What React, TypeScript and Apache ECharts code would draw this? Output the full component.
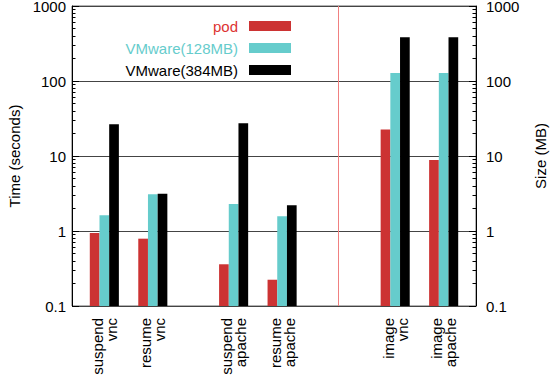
import React, { useEffect, useRef } from "react";
import * as echarts from "echarts";

const categories = ["suspend\nvnc", "resume\nvnc", "suspend\napache", "resume\napache", "image\nvnc", "image\napache"];
const xPositions = [0, 1, 2.667, 3.667, 6, 7];
const separatorX = 4.83;
const seriesNames = ["pod", "VMware(128MB)", "VMware(384MB)"];
const podValues = [0.94, 0.79, 0.36, 0.224, 22.6, 8.85];
const vm128Values = [1.62, 3.08, 2.29, 1.57, 128, 128];
const vm384Values = [26.5, 3.14, 27.3, 2.2, 384, 384];
const yTickLabels = ["0.1", "1", "10", "100", "1000"];
const minorTicks = [0.2, 0.3, 0.4, 0.5, 0.6, 0.7, 0.8, 0.9, 2, 3, 4, 5, 6, 7, 8, 9, 20, 30, 40, 50, 60, 70, 80, 90, 200, 300, 400, 500, 600, 700, 800, 900];

const colors = ["#cc3333", "#66cccc", "#000000"];
const FONT = "Liberation Sans, Arial, Helvetica, sans-serif";
const Y_MIN = 0.1;
const Y_MAX = 1000;
const BAR_UNIT = 0.2;

export default function App() {
  const ref = useRef<HTMLDivElement>(null);
  useEffect(() => {
    if (!ref.current) return;
    const chart = echarts.init(ref.current, null, { renderer: "svg" });
    const allValues = [podValues, vm128Values, vm384Values];

    const makeSeries = (k: number) => ({
      type: "custom",
      name: seriesNames[k],
      xAxisIndex: 0,
      yAxisIndex: 0,
      itemStyle: { color: colors[k] },
      encode: { x: 0, y: 1 },
      data: allValues[k].map((v, i) => [xPositions[i], v]),
      renderItem: (params: any, api: any) => {
        const x = api.value(0);
        const v = api.value(1);
        const top = api.coord([x, v]);
        const base = api.coord([x, Y_MIN]);
        const w = api.coord([x + BAR_UNIT, v])[0] - top[0];
        const cx = top[0] + (k - 1) * w;
        return {
          type: "rect",
          shape: { x: cx - w / 2, y: top[1], width: w, height: base[1] - top[1] },
          style: { fill: colors[k] },
        };
      },
    });

    const separatorSeries = {
      type: "custom",
      name: "separator",
      xAxisIndex: 0,
      yAxisIndex: 0,
      silent: true,
      encode: { x: 0, y: 1 },
      data: [[separatorX, Y_MAX]],
      renderItem: (params: any, api: any) => {
        const a = api.coord([api.value(0), Y_MAX]);
        const b = api.coord([api.value(0), Y_MIN]);
        return {
          type: "line",
          shape: { x1: Math.round(a[0]) + 0.5, y1: a[1], x2: Math.round(a[0]) + 0.5, y2: b[1] },
          style: { stroke: "#f08080", lineWidth: 1 },
        };
      },
    };

    const yBase = (pos: "left" | "right") => ({
      type: "log",
      logBase: 10,
      min: Y_MIN,
      max: Y_MAX,
      position: pos,
    });

    const tickFormatter = (v: number) =>
      yTickLabels.find((t) => Math.abs(parseFloat(t) - v) < 1e-6 * Math.max(1, v)) ?? "";

    chart.setOption({
      animation: false,
      grid: {
        left: 72,
        right: 74,
        top: 6,
        bottom: 70,
        containLabel: false,
        outerBoundsMode: "none",
        show: true,
        borderColor: "#666",
        borderWidth: 1,
      },
      legend: {
        orient: "vertical",
        right: 254,
        top: 10,
        align: "right",
        icon: "rect",
        itemWidth: 42,
        itemHeight: 10,
        itemGap: 0,
        selectedMode: false,
        textStyle: { fontFamily: FONT, fontSize: 15, lineHeight: 22, padding: [0, 6, 0, 0] },
        data: [
          { name: seriesNames[0], textStyle: { color: "#dd3333" } },
          { name: seriesNames[1], textStyle: { color: "#66cccc" } },
          { name: seriesNames[2], textStyle: { color: "#000" } },
        ],
      },
      xAxis: {
        type: "value",
        min: -0.667,
        max: 7.667,
        axisLine: { show: false, onZero: false },
        splitLine: { show: false },
        axisTick: {
          show: true,
          inside: true,
          length: 5,
          customValues: xPositions,
          lineStyle: { color: "#000", width: 2 },
        },
        axisLabel: {
          customValues: xPositions,
          rotate: 90,
          margin: 12,
          fontFamily: FONT,
          fontSize: 15,
          lineHeight: 14,
          color: "#000",
          formatter: (val: number) => {
            const i = xPositions.findIndex((p) => Math.abs(p - val) < 1e-6);
            return i >= 0 ? categories[i] : "";
          },
        },
      },
      yAxis: [
        {
          ...yBase("left"),
          name: "Time (seconds)",
          nameLocation: "middle",
          nameRotate: 90,
          nameGap: 50,
          nameTextStyle: { fontFamily: FONT, fontSize: 15, color: "#000" },
          axisLine: { show: true, onZero: false, lineStyle: { color: "#000" } },
          axisTick: { show: true, inside: true, length: 7, lineStyle: { color: "#000" } },
          axisLabel: { fontFamily: FONT, fontSize: 15, color: "#000", margin: 6, formatter: tickFormatter },
          splitLine: { show: true, lineStyle: { color: "#444", width: 1 } },
        },
        {
          ...yBase("right"),
          name: "Size (MB)",
          nameLocation: "middle",
          nameRotate: 90,
          nameGap: 57,
          nameTextStyle: { fontFamily: FONT, fontSize: 15, color: "#000" },
          axisLine: { show: true, onZero: false, lineStyle: { color: "#000" } },
          axisTick: { show: true, inside: true, length: 7, lineStyle: { color: "#000" } },
          axisLabel: { fontFamily: FONT, fontSize: 15, color: "#000", margin: 10, formatter: tickFormatter },
          splitLine: { show: false },
        },
        {
          ...yBase("left"),
          axisLine: { show: false, onZero: false },
          axisLabel: { show: false },
          splitLine: { show: false },
          axisTick: { show: true, inside: true, length: 3.5, customValues: minorTicks, lineStyle: { color: "#000" } },
        },
        {
          ...yBase("right"),
          axisLine: { show: false, onZero: false },
          axisLabel: { show: false },
          splitLine: { show: false },
          axisTick: { show: true, inside: true, length: 3.5, customValues: minorTicks, lineStyle: { color: "#000" } },
        },
      ],
      series: [makeSeries(0), makeSeries(1), makeSeries(2), separatorSeries],
    });
    return () => chart.dispose();
  }, []);
  return <div ref={ref} style={{ width: 550, height: 376, position: "absolute", left: 0, top: 0 }} />;
}
